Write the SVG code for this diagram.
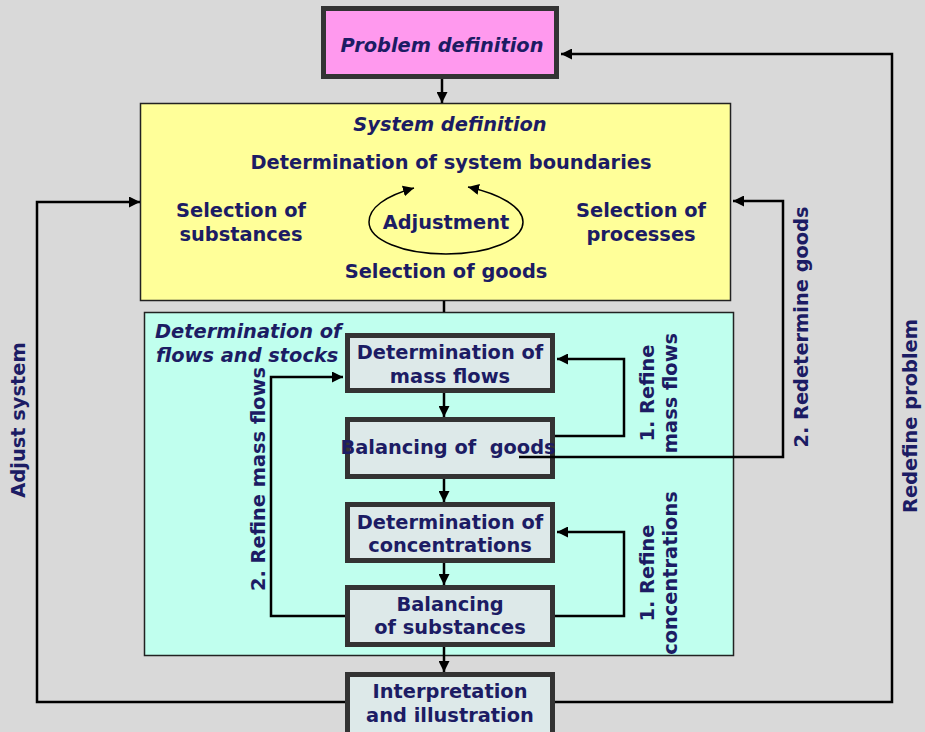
<svg xmlns="http://www.w3.org/2000/svg" width="925" height="732" viewBox="0 0 925 732">
<style>
.t{font-family:"DejaVu Sans",Verdana,sans-serif;font-weight:bold;font-size:19.4px;fill:#1c1c64;text-anchor:middle}
.i{font-style:italic}
.st{text-anchor:start}
.box{fill:#dde9e9;stroke:#333;stroke-width:5}
.c{fill:none;stroke:#000;stroke-width:2.5}
.e{fill:none;stroke:#000;stroke-width:1.5}
</style>
<defs>
<marker id="arr" viewBox="0 0 10 10" refX="10" refY="5" markerWidth="11" markerHeight="11" orient="auto-start-reverse" markerUnits="userSpaceOnUse"><path d="M0,0 L10,5 L0,10 z" fill="#000"/></marker>
</defs>
<rect width="925" height="732" fill="#d9d9d9"/>
<g id="system">
<rect x="140.5" y="103.5" width="590" height="197" fill="#ffff99" stroke="#222" stroke-width="1.5"/>
<text class="t i" x="450" y="131">System definition</text>
<text class="t" x="451" y="169">Determination of system boundaries</text>
<text class="t" x="241" y="217">Selection of</text>
<text class="t" x="241" y="241">substances</text>
<text class="t" x="641" y="217">Selection of</text>
<text class="t" x="641" y="241">processes</text>
<text class="t" x="446" y="229">Adjustment</text>
<text class="t" x="446" y="278">Selection of goods</text>
<path class="e" d="M414,188 C385,196 369,208 369,222 C369,240 403,254 446,254 C489,254 523,240 523,222 C523,207 500,194 468,187" marker-start="url(#arr)" marker-end="url(#arr)"/>
</g>
<g id="flows">
<rect x="144.5" y="312.5" width="589" height="343" fill="#c0ffee" stroke="#222" stroke-width="1.5"/>
<text class="t i st" x="155" y="338">Determination of</text>
<text class="t i st" x="156" y="362">flows and stocks</text>
</g>
<g id="problem">
<rect x="323.5" y="8.5" width="233" height="68" fill="#ff99ee" stroke="#333" stroke-width="5"/>
<text class="t i" x="442" y="52">Problem definition</text>
</g>
<g id="massflows">
<rect class="box" x="347.5" y="335.5" width="205" height="55"/>
<text class="t" x="450" y="359">Determination of</text>
<text class="t" x="450" y="383">mass flows</text>
</g>
<g id="goods">
<rect class="box" x="347.5" y="419.5" width="205" height="57"/>
<text class="t" x="448" y="454" xml:space="preserve">Balancing of  goods</text>
</g>
<g id="concentrations">
<rect class="box" x="347.5" y="504.5" width="205" height="56"/>
<text class="t" x="450" y="529">Determination of</text>
<text class="t" x="450" y="552">concentrations</text>
</g>
<g id="substances">
<rect class="box" x="347.5" y="587.5" width="205" height="57"/>
<text class="t" x="450" y="611">Balancing</text>
<text class="t" x="450" y="634">of substances</text>
</g>
<g id="interpretation">
<rect class="box" x="347.5" y="674.5" width="205" height="62"/>
<text class="t" x="450" y="698">Interpretation</text>
<text class="t" x="450" y="722">and illustration</text>
</g>
<g id="connectors">
<path class="c" d="M442,79 V103" marker-end="url(#arr)"/>
<path class="c" d="M444,301 V312"/>
<path class="c" d="M444,393 V417" marker-end="url(#arr)"/>
<path class="c" d="M444,479 V502" marker-end="url(#arr)"/>
<path class="c" d="M444,563 V585" marker-end="url(#arr)"/>
<path class="c" d="M444,647 V672" marker-end="url(#arr)"/>
<path class="c" d="M555,436 H624 V359 H557" marker-end="url(#arr)"/>
<path class="c" d="M519,457 H783 V201 H733" marker-end="url(#arr)"/>
<path class="c" d="M555,616 H624 V532 H557" marker-end="url(#arr)"/>
<path class="c" d="M345,616 H271 V377 H343" marker-end="url(#arr)"/>
<path class="c" d="M555,702 H892 V54 H561" marker-end="url(#arr)"/>
<path class="c" d="M345,702 H37 V202 H140" marker-end="url(#arr)"/>
</g>
<g id="labels">
<text class="t" transform="translate(25,420) rotate(-90)">Adjust system</text>
<text class="t" transform="translate(917,416) rotate(-90)">Redefine problem</text>
<text class="t" transform="translate(808,327) rotate(-90)">2. Redetermine goods</text>
<text class="t" transform="translate(654,393) rotate(-90)">1. Refine<tspan x="0" dy="23">mass flows</tspan></text>
<text class="t" transform="translate(654,573) rotate(-90)">1. Refine<tspan x="0" dy="23">concentrations</tspan></text>
<text class="t" transform="translate(265,479) rotate(-90)">2. Refine mass flows</text>
</g>
</svg>
